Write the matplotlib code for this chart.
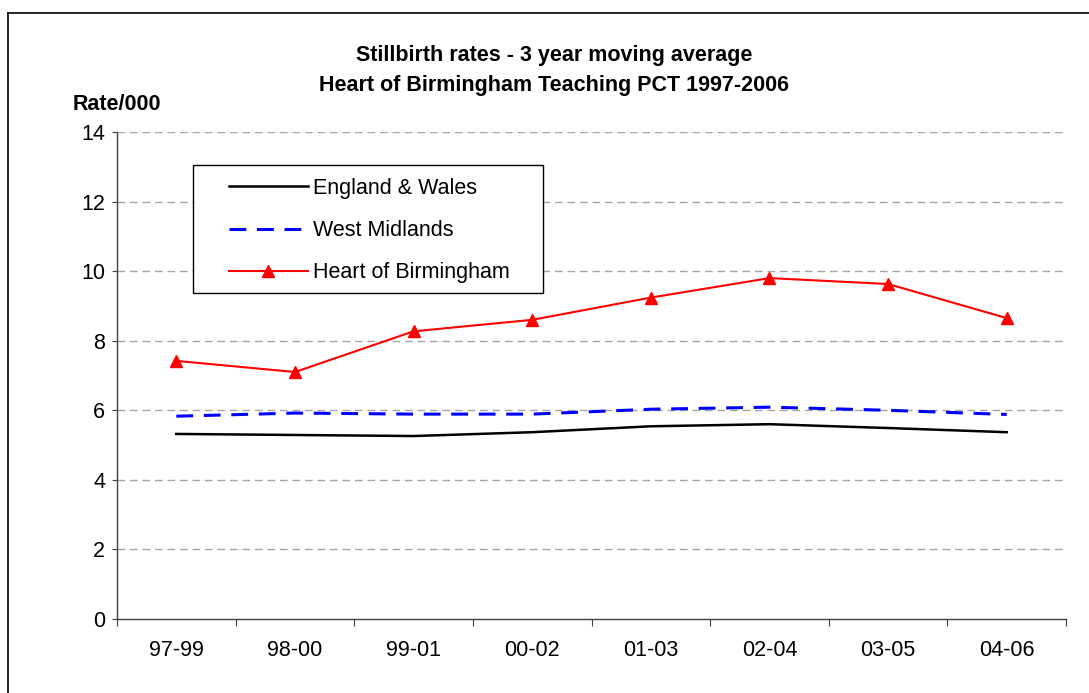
import matplotlib.pyplot as plt
import numpy as np
from matplotlib.lines import Line2D
from matplotlib.patches import Rectangle

plt.rcParams['font.family'] = ['Liberation Sans', 'DejaVu Sans']

periods = ['97-99', '98-00', '99-01', '00-02', '01-03', '02-04', '03-05', '04-06']
england_wales = [5.32, 5.29, 5.26, 5.37, 5.54, 5.60, 5.49, 5.37]
west_midlands = [5.83, 5.92, 5.89, 5.89, 6.03, 6.09, 6.00, 5.88]
heart_brum = [7.42, 7.10, 8.27, 8.60, 9.24, 9.80, 9.63, 8.65]

W, H = 1089, 693
FS = 15.5

fig = plt.figure(figsize=(W / 100, H / 100), dpi=100)
ax = fig.add_axes([117 / W, 74 / H, 949 / W, 487 / H])

x = np.arange(len(periods))
ax.plot(x, england_wales, color='black', lw=1.8, label='England & Wales')
ax.plot(x, west_midlands, color='#0000ff', lw=2.2, dashes=(5.5, 3.5), label='West Midlands')
ax.plot(x, heart_brum, color='#ff0000', lw=1.5, marker='^', ms=8.5, label='Heart of Birmingham')

ax.set_xlim(-0.5, len(periods) - 0.5)
ax.set_ylim(0, 14)
ax.set_yticks(range(0, 15, 2))
ax.set_xticks(np.arange(-0.5, len(periods), 1.0))
ax.set_xticklabels([])
ax.set_xticks(x, minor=True)
ax.set_xticklabels(periods, minor=True)
ax.tick_params(axis='x', which='minor', length=0, pad=15, labelsize=FS)
ax.tick_params(axis='x', which='major', length=5, direction='out', color='#404040')
ax.tick_params(axis='y', length=3.6, pad=5, direction='out', color='#404040', labelsize=FS)

for v in range(2, 15, 2):
    ax.axhline(v, color='#a6a6a6', lw=1, dashes=(5.5, 3.5), zorder=0)

for s in ['top', 'right']:
    ax.spines[s].set_visible(False)
for s in ['left', 'bottom']:
    ax.spines[s].set_color('#404040')
    ax.spines[s].set_linewidth(1)

# legend box drawn separately, entries placed inside it
def px(xp, yp):
    return ((xp - 117) / 949, (619 - yp) / 487)

ax.add_patch(Rectangle(px(193, 293), 350 / 949, 128 / 487, transform=ax.transAxes,
                       facecolor='white', edgecolor='black', lw=1, zorder=4))
leg = ax.legend(loc='upper left', bbox_to_anchor=px(229, 178), fontsize=FS,
                frameon=False, handlelength=3.65, handletextpad=0.25,
                labelspacing=0.98, borderpad=0, borderaxespad=0)
leg.set_zorder(5)

fig.text(554 / W, 1 - 55 / H, 'Stillbirth rates - 3 year moving average',
         ha='center', va='center', fontsize=FS, fontweight='bold')
fig.text(554 / W, 1 - 85 / H, 'Heart of Birmingham Teaching PCT 1997-2006',
         ha='center', va='center', fontsize=FS, fontweight='bold')
fig.text(73 / W, 1 - 104 / H, 'Rate/000', ha='left', va='center',
         fontsize=FS, fontweight='bold')

# outer chart frame, cut off at right and bottom
fig.add_artist(Line2D([8 / W, 8 / W], [0, 1 - 13 / H], color='black', lw=1.2,
                      transform=fig.transFigure))
fig.add_artist(Line2D([8 / W, 1], [1 - 13 / H, 1 - 13 / H], color='black', lw=1.2,
                      transform=fig.transFigure))

fig.savefig('out.png', dpi=100)
